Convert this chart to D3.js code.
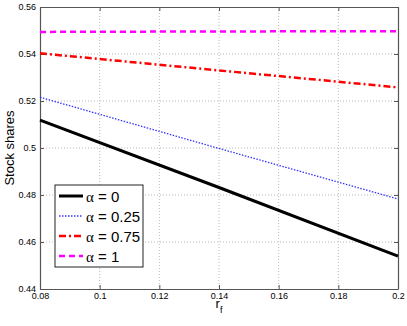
<!DOCTYPE html>
<html><head><meta charset="utf-8">
<script src="https://cdn.jsdelivr.net/npm/d3@7"></script>
<style>body{margin:0;background:#fff}svg{display:block}</style>
</head><body>
<svg id="c" width="407" height="326"></svg>
<script>
const xValues = [0.08, 0.14, 0.2];
const alpha0 = [0.5119, 0.4832, 0.4540];
const alpha025 = [0.5216, 0.4998, 0.4783];
const alpha075 = [0.5403, 0.5330, 0.5258];
const alpha1 = [0.5494, 0.5496, 0.5497];
const seriesNames = ["0", "0.25", "0.75", "1"];
const xTicks = [0.08, 0.1, 0.12, 0.14, 0.16, 0.18, 0.2];
const yTicks = [0.44, 0.46, 0.48, 0.5, 0.52, 0.54, 0.56];

const svg = d3.select("#c");
const L = 40, R = 398, T = 7, B = 289;
const x = d3.scaleLinear().domain([0.08, 0.2]).range([L, R]);
const y = d3.scaleLinear().domain([0.44, 0.56]).range([B, T]);
const fmt = d => String(+d.toFixed(2));

// grid
const g = svg.append("g");
g.selectAll(".gx").data(xTicks.slice(1, -1)).enter().append("line")
  .attr("x1", d => x(d)).attr("x2", d => x(d)).attr("y1", T).attr("y2", B)
  .attr("stroke", "#bbb").attr("stroke-width", 1).attr("stroke-dasharray", "1,2");
g.selectAll(".gy").data(yTicks.slice(1, -1)).enter().append("line")
  .attr("y1", d => y(d)).attr("y2", d => y(d)).attr("x1", L).attr("x2", R)
  .attr("stroke", "#bbb").attr("stroke-width", 1).attr("stroke-dasharray", "1,2");

// axes
const axCol = "#555";
const axB = svg.append("g").attr("transform", `translate(0,${B})`)
  .call(d3.axisBottom(x).tickValues(xTicks).tickFormat(fmt).tickSizeInner(-4).tickSizeOuter(0).tickPadding(4));
const axT = svg.append("g").attr("transform", `translate(0,${T})`)
  .call(d3.axisTop(x).tickValues(xTicks).tickFormat("").tickSizeInner(-4).tickSizeOuter(0));
const axL = svg.append("g").attr("transform", `translate(${L},0)`)
  .call(d3.axisLeft(y).tickValues(yTicks).tickFormat(fmt).tickSizeInner(-4).tickSizeOuter(0).tickPadding(4));
const axR = svg.append("g").attr("transform", `translate(${R},0)`)
  .call(d3.axisRight(y).tickValues(yTicks).tickFormat("").tickSizeInner(-4).tickSizeOuter(0));
[axB, axT, axL, axR].forEach(a => {
  a.selectAll("path").attr("stroke", axCol).attr("stroke-width", 1.2);
  a.selectAll("line").attr("stroke", axCol);
  a.selectAll("text").attr("font-family", "Liberation Sans, Arial, sans-serif").attr("font-size", 9).attr("fill", "#000");
});

// series
const series = [
  {vals: alpha0, color: "#000", w: 3, dash: null},
  {vals: alpha025, color: "#3333ff", w: 1.3, dash: "1.5,1.5"},
  {vals: alpha075, color: "#ff0000", w: 2.5, dash: "7,3,2,3"},
  {vals: alpha1, color: "#ff00ff", w: 2.5, dash: "6,4"}
];
const line = d3.line().x(d => x(d[0])).y(d => y(d[1]));
series.slice().reverse().forEach(s => {
  svg.append("path").datum(xValues.map((xv, i) => [xv, s.vals[i]]))
    .attr("d", line).attr("fill", "none").attr("stroke", s.color)
    .attr("stroke-width", s.w).attr("stroke-dasharray", s.dash);
});

// labels
svg.append("text").attr("transform", `translate(14,${(T + B) / 2}) rotate(-90)`)
  .attr("text-anchor", "middle").attr("font-family", "Liberation Sans, Arial, sans-serif")
  .attr("font-size", 13).text("Stock shares");
const xl = svg.append("text").attr("x", x(0.14)).attr("y", 308).attr("text-anchor", "middle")
  .attr("font-family", "Liberation Sans, Arial, sans-serif").attr("font-size", 13);
xl.append("tspan").text("r");
xl.append("tspan").attr("font-size", 9).attr("dy", 5).text("f");

// legend
const lg = svg.append("g");
lg.append("rect").attr("x", 55).attr("y", 185).attr("width", 88).attr("height", 82)
  .attr("fill", "#fff").attr("stroke", "#222").attr("stroke-width", 1);
series.forEach((s, i) => {
  const yy = 196 + i * 20;
  lg.append("line").attr("x1", 59).attr("x2", 83).attr("y1", yy).attr("y2", yy)
    .attr("stroke", s.color).attr("stroke-width", s.w).attr("stroke-dasharray", s.dash);
  const t = lg.append("text").attr("x", 86).attr("y", yy + 5.5)
    .attr("font-family", "Liberation Sans, Arial, sans-serif").attr("font-size", 15);
  t.append("tspan").attr("font-family", "Liberation Serif, serif").text("α");
  t.append("tspan").text(" = " + seriesNames[i]);
});
</script>
</body></html>
